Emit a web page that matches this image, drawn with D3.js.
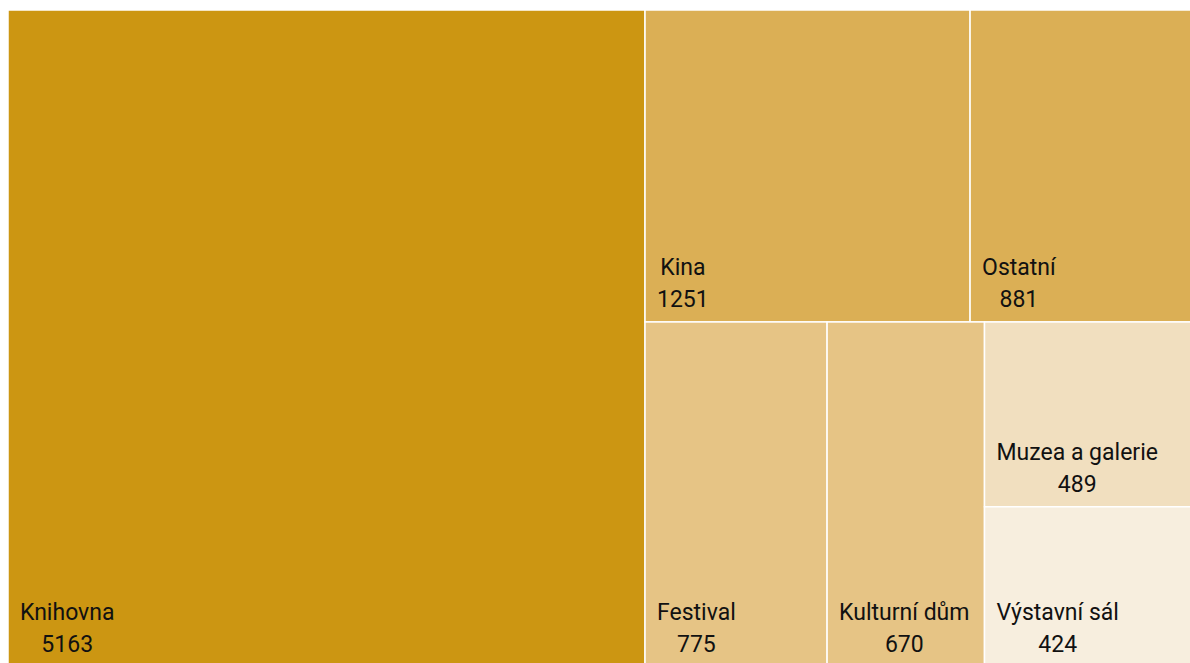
<!DOCTYPE html>
<html>
<head>
<meta charset="utf-8">
<script src="https://cdn.jsdelivr.net/npm/d3@7"></script>
<style>
  html, body { margin: 0; padding: 0; background: #fff; overflow: hidden; }
  svg { display: block; }
  .lbl { font-family: Roboto, "Noto Sans", sans-serif; font-size: 23px; fill: #111; }
</style>
</head>
<body>
<svg id="chart" width="1190" height="663"></svg>
<script>
// data
const categories = ["Knihovna", "Kina", "Ostatní", "Festival", "Kulturní dům", "Muzea a galerie", "Výstavní sál"];
const values = [5163, 1251, 881, 775, 670, 489, 424];
const colors = ["#cc9612", "#dbaf55", "#dbaf55", "#e6c485", "#e6c485", "#f1dfbf", "#f7eede"];
// how the cells are grouped in the layout
const nesting = [["Knihovna"], [["Kina", "Ostatní"], ["Festival", "Kulturní dům", ["Muzea a galerie", "Výstavní sál"]]]];

const svg = d3.select("#chart");
const marginLeft = 8, marginTop = 10, W = 1191, H = 657;

function build(n) {
  if (Array.isArray(n)) return { children: n.map(build) };
  const i = categories.indexOf(n);
  return { name: n, value: values[i], color: colors[i] };
}

const root = d3.hierarchy(build(nesting))
  .sum(d => d.value || 0);

// slice/dice depending on shape of the cell
const tile = (node, x0, y0, x1, y1) => {
  (x1 - x0 > y1 - y0 ? d3.treemapDice : d3.treemapSlice)(node, x0, y0, x1, y1);
};

d3.treemap().tile(tile).size([W, H])(root);

const g = svg.append("g").attr("transform", `translate(${marginLeft},${marginTop})`);

const cells = g.selectAll("g.cell")
  .data(root.leaves())
  .join("g")
  .attr("class", "cell");

cells.append("rect")
  .attr("x", d => d.x0)
  .attr("y", d => d.y0)
  .attr("width", d => d.x1 - d.x0)
  .attr("height", d => d.y1 - d.y0)
  .attr("fill", d => d.data.color)
  .attr("stroke", "#fff")
  .attr("stroke-width", 1.5);

const labels = cells.append("g")
  .attr("transform", d => `translate(${d.x0 + 12},${d.y1 - 15})`);

labels.append("text")
  .attr("class", "lbl name")
  .attr("y", -32)
  .attr("text-anchor", "middle")
  .text(d => d.data.name);

labels.append("text")
  .attr("class", "lbl val")
  .attr("text-anchor", "middle")
  .text(d => d3.format("d")(d.value));

// center both lines on the wider one
labels.each(function () {
  const el = d3.select(this);
  const w = Math.max(
    el.select(".name").node().getComputedTextLength(),
    el.select(".val").node().getComputedTextLength()
  );
  el.selectAll("text").attr("x", w / 2);
});
</script>
</body>
</html>
